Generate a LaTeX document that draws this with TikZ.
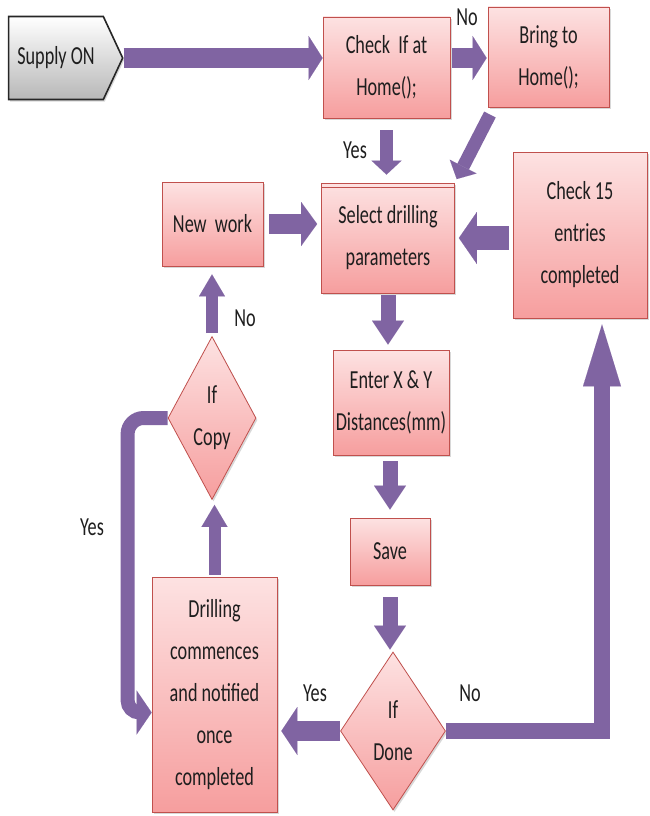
\documentclass[tikz,border=0pt]{standalone}
\usepackage{fontspec}
\setmainfont{Carlito}[FakeStretch=0.7]
\usetikzlibrary{arrows.meta,shapes.geometric,shapes.symbols,shadows}
\definecolor{arr}{RGB}{128,100,162}
\definecolor{bord}{RGB}{192,80,77}
\definecolor{boxtop}{RGB}{253,226,226}
\definecolor{boxbot}{RGB}{246,158,158}
\definecolor{txt}{RGB}{30,30,30}
\tikzset{
  box/.style={rectangle, draw=bord, line width=0.8pt, top color=boxtop, bottom color=boxbot,
    drop shadow={opacity=0.3, shadow xshift=1.5pt, shadow yshift=-2pt},
    align=center, font=\fontsize{26}{42}\selectfont, text=txt, inner sep=0pt},
  decision/.style={box, diamond, shape aspect=0.6},
  fa/.style n args={3}{draw=arr, line width=#1, -{Triangle[width=#2, length=#3, line width=0.01pt]}},
  lbl/.style={font=\fontsize{26}{30}\selectfont, text=txt},
}
\begin{document}
\begin{tikzpicture}[x=1pt,y=-1pt]
\fill[white] (0,0) rectangle (649,816);
\useasboundingbox (0,0) rectangle (649,816);

% nodes
\node[signal, signal to=east, signal pointer angle=130, draw=black!85, line width=1.6pt,
      top color=white, bottom color=black!28, minimum width=114pt, minimum height=83pt,
      inner sep=0pt, font=\fontsize{26}{30}\selectfont, text=txt,
      drop shadow={opacity=0.3, shadow xshift=1.5pt, shadow yshift=-2pt}] (supply) at (56,58) {Supply ON};
\node[box, minimum width=127pt, minimum height=101pt] (check) at (386.5,67.5) {Check\ \ If at\\Home();};
\node[box, minimum width=121pt, minimum height=100pt] (bring) at (548.5,57) {Bring to\\Home();};
\node[box, minimum width=133pt, minimum height=110pt] (select) at (388,238) {Select drilling\\parameters};
\node[box, minimum width=101pt, minimum height=84pt] (newwork) at (212.5,224) {New\ \ work};
\node[box, minimum width=134pt, minimum height=166pt] (check15) at (580,235) {Check 15\\entries\\completed};
\node[box, minimum width=116pt, minimum height=105pt] (enter) at (391,402.5) {Enter X \& Y\\Distances(mm)};
\node[box, minimum width=80pt, minimum height=67pt] (save) at (390,551.5) {Save};
\node[decision, minimum width=105pt, minimum height=158pt] (done) at (393,731) {If\\Done};
\node[box, minimum width=125pt, minimum height=235pt] (drill) at (214.5,694.5) {Drilling\\commences\\and notified\\once\\completed};
\node[decision, minimum width=88pt, minimum height=163pt] (copy) at (212,418) {If\\Copy};

% double line at top of select
\draw[bord, line width=0.8pt] ([yshift=-5pt]select.north west) -- ([yshift=-5pt]select.north east);

% connectors
\draw[fa={20pt}{44pt}{14pt}] (supply.east) -- (supply.east -| check.west);
\draw[fa={20pt}{44pt}{14pt}, shorten <=2pt, shorten >=1pt] (check.east |- supply.east) -- (bring.west |- supply.east);
\draw[fa={13pt}{30pt}{14pt}, shorten <=12pt, shorten >=8pt] (check.south) -- (check.south |- select.north);
\draw[fa={13pt}{30pt}{14pt}, shorten <=8pt, shorten >=4pt] ([xshift=6pt]bring.south west) -- (select.north east);
\draw[fa={20pt}{44pt}{16pt}, shorten <=6pt, shorten >=4pt] (newwork.east) -- (newwork.east -| select.west);
\draw[fa={24pt}{52pt}{18pt}, shorten <=4pt, shorten >=4pt] (check15.west |- select.east) -- (select.east);
\draw[fa={15pt}{32pt}{24pt}, shorten <=2pt, shorten >=5pt] (select.south) -- (select.south |- enter.north);
\draw[fa={15pt}{32pt}{24pt}, shorten <=6pt, shorten >=8pt] (enter.south -| save.north) -- (save.north);
\draw[fa={15pt}{32pt}{24pt}, shorten <=12pt, shorten >=2pt] (save.south) -- (save.south |- done.north);
\draw[fa={20pt}{48pt}{16pt}, shorten >=4pt] (done.west) -- (done.west -| drill.east);
\draw[fa={16pt}{38pt}{62pt}, shorten >=6pt] (done.east) -| ([xshift=22pt]check15.south);
\draw[fa={12pt}{26pt}{22pt}, shorten <=2pt, shorten >=5pt] (drill.north) -- (drill.north |- copy.south);
\draw[fa={12pt}{26pt}{22pt}, shorten <=3pt, shorten >=8pt] (copy.north) -- (copy.north |- newwork.south);
\draw[draw=arr, line width=14pt, rounded corners=16pt] (copy.west) -- ([xshift=-40pt]copy.west)
   [rounded corners=12pt] -- ([xshift=-24pt,yshift=-18pt]drill.west) -- ([xshift=-12pt,yshift=-18pt]drill.west);
\draw[fa={14pt}{44pt}{15pt}] ([xshift=-14pt,yshift=-18pt]drill.west) -- ([yshift=-18pt]drill.west);

% labels
\node[lbl] (yes1) at (355,150) {Yes};
\node[lbl] (no1) at (467,17) {No};
\node[lbl] (no2) at (245,318) {No};
\node[lbl] (yes2) at (92,527) {Yes};
\node[lbl] (yes3) at (315,693) {Yes};
\node[lbl] (no3) at (470,693) {No};
\end{tikzpicture}
\end{document}
